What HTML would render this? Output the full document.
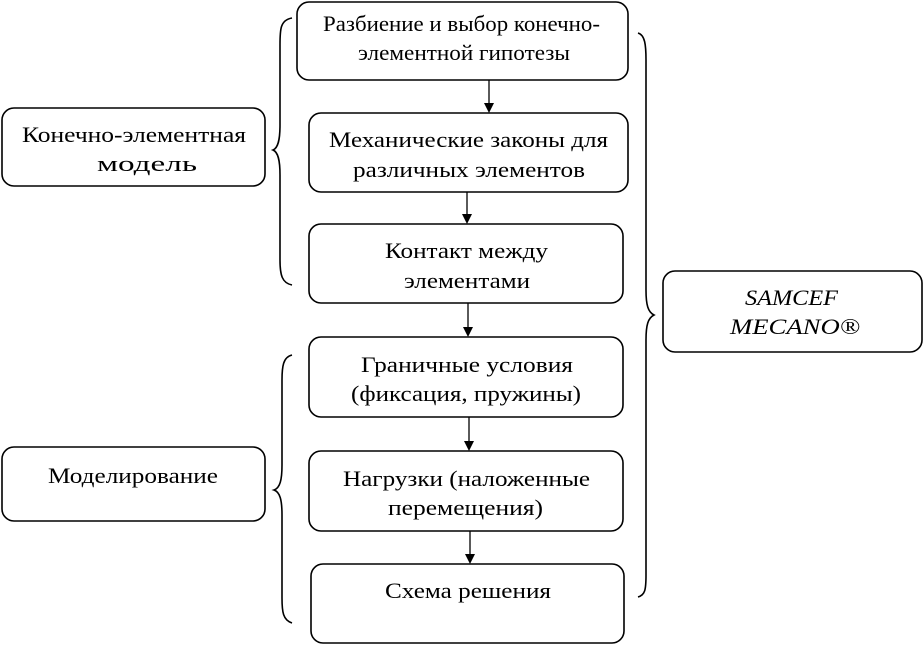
<!DOCTYPE html>
<html><head><meta charset="utf-8"><style>
html,body{margin:0;padding:0;background:#fff;width:923px;height:645px;overflow:hidden}
text{font-family:"Liberation Serif",serif;font-size:22px;fill:#000}
</style></head><body>
<svg width="923" height="645" viewBox="0 0 923 645" xmlns="http://www.w3.org/2000/svg">
<g fill="none" stroke="#000" stroke-width="1.6">
<rect x="297" y="2" width="331" height="78" rx="12"/>
<rect x="309" y="113" width="319" height="79" rx="12"/>
<rect x="309" y="224" width="314" height="79" rx="12"/>
<rect x="309" y="337" width="314" height="80" rx="12"/>
<rect x="309" y="451" width="314" height="80" rx="12"/>
<rect x="311" y="564" width="313" height="79" rx="12"/>
<rect x="2" y="108" width="263" height="78" rx="12"/>
<rect x="2" y="447" width="263" height="74" rx="12"/>
<rect x="663" y="271" width="259" height="81" rx="12"/>
<path d="M292,18 C280,20 280,30 280,45 L280,125 C280,140 278,148 273,150 C278,152 280,160 280,175 L280,260 C280,275 282,283 292,285"/>
<path d="M292,355 C283,357 282,367 282,380 L282,465 C282,480 280,488 274,490 C280,492 282,500 282,515 L282,598 C282,612 283,620 292,623"/>
<path d="M638,33 C645,35 646,45 646,60 L646,290 C646,305 648,312 654,315 C648,318 646,325 646,340 L646,575 C646,590 645,595 638,597"/>
</g>
<g stroke="#000" stroke-width="1.3">
<line x1="489" y1="80" x2="489" y2="104"/>
<line x1="467" y1="192" x2="467" y2="215"/>
<line x1="468" y1="303" x2="468" y2="328"/>
<line x1="469" y1="417" x2="469" y2="442"/>
<line x1="470" y1="531" x2="470" y2="555"/>
</g>
<g fill="#000">
<path d="M484,103 L494,103 L489,113 z"/>
<path d="M462,214 L472,214 L467,224 z"/>
<path d="M463,327 L473,327 L468,337 z"/>
<path d="M464,441 L474,441 L469,451 z"/>
<path d="M465,554 L475,554 L470,564 z"/>
</g>
<g lengthAdjust="spacingAndGlyphs">
<text x="323" y="31" textLength="277" lengthAdjust="spacingAndGlyphs">Разбиение и выбор конечно-</text>
<text x="358" y="60" textLength="212" lengthAdjust="spacingAndGlyphs">элементной гипотезы</text>
<text x="329" y="147" textLength="279" lengthAdjust="spacingAndGlyphs">Механические законы для</text>
<text x="353" y="177" textLength="232" lengthAdjust="spacingAndGlyphs">различных элементов</text>
<text x="385" y="258" textLength="163" lengthAdjust="spacingAndGlyphs">Контакт между</text>
<text x="404" y="288" textLength="126" lengthAdjust="spacingAndGlyphs">элементами</text>
<text x="361" y="372" textLength="212" lengthAdjust="spacingAndGlyphs">Граничные условия</text>
<text x="351" y="401" textLength="230" lengthAdjust="spacingAndGlyphs">(фиксация, пружины)</text>
<text x="343" y="486" textLength="247" lengthAdjust="spacingAndGlyphs">Нагрузки (наложенные</text>
<text x="388" y="515" textLength="155" lengthAdjust="spacingAndGlyphs">перемещения)</text>
<text x="385" y="598" textLength="166" lengthAdjust="spacingAndGlyphs">Схема решения</text>
<text x="22" y="142" textLength="224" lengthAdjust="spacingAndGlyphs">Конечно-элементная</text>
<text x="97" y="171" textLength="100" lengthAdjust="spacingAndGlyphs">модель</text>
<text x="48" y="483" textLength="170" lengthAdjust="spacingAndGlyphs">Моделирование</text>
<text x="745" y="305" font-style="italic" textLength="93" lengthAdjust="spacingAndGlyphs">SAMCEF</text>
<text x="730" y="334" font-style="italic" textLength="130" lengthAdjust="spacingAndGlyphs">MECANO®</text>
</g>
</svg>
</body></html>
